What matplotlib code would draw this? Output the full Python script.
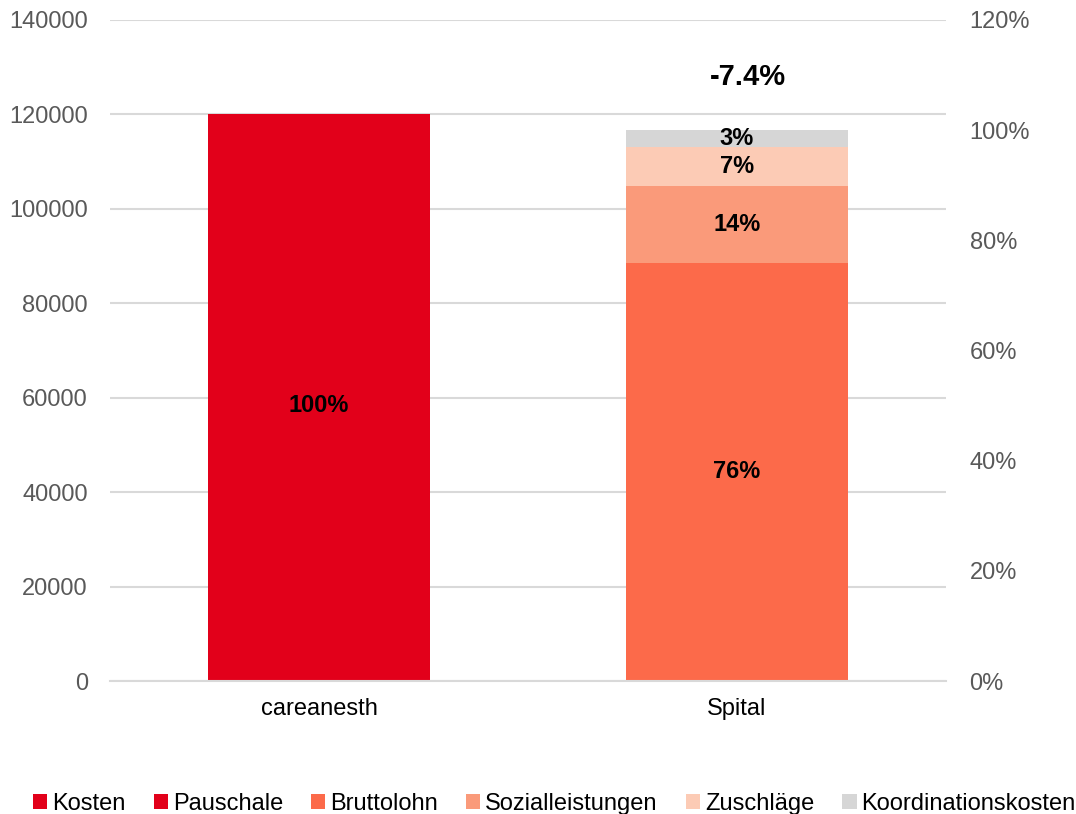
import matplotlib
matplotlib.use("Agg")
import matplotlib.pyplot as plt
from matplotlib.patches import Patch

plt.rcParams['font.family'] = ['Liberation Sans', 'DejaVu Sans']

categories = ['careanesth', 'Spital']
series_names = ['Kosten', 'Pauschale', 'Bruttolohn', 'Sozialleistungen', 'Zuschläge', 'Koordinationskosten']
series_colors = ['#E2001A', '#E2001A', '#FC6A4A', '#FA9A7A', '#FCCBB5', '#D6D6D6']
# values per series for [careanesth, Spital]
kosten = [116700, 0]
pauschale = [3300, 0]
bruttolohn = [0, 88600]
sozialleistungen = [0, 16250]
zuschlaege = [0, 8200]
koordination = [0, 3700]
# segment labels: (category index, series index, text)
segment_labels = [(0, 0, '100%'), (1, 2, '76%'), (1, 3, '14%'), (1, 4, '7%'), (1, 5, '3%')]
diff_label = '-7.4%'

series_values = [kosten, pauschale, bruttolohn, sozialleistungen, zuschlaege, koordination]

fig = plt.figure(figsize=(10.76, 8.14), dpi=100)
ax = fig.add_axes([110 / 1076, 1 - 681 / 814, 836 / 1076, 661 / 814])

x = list(range(len(categories)))
bottoms = [0] * len(categories)
seg_pos = {}
for si, (vals, color) in enumerate(zip(series_values, series_colors)):
    ax.bar(x, vals, bottom=bottoms, width=0.53, color=color, linewidth=0, zorder=2)
    for ci in x:
        seg_pos[(ci, si)] = bottoms[ci] + vals[ci] / 2
    bottoms = [b + v for b, v in zip(bottoms, vals)]

for ci, si, txt in segment_labels:
    ax.text(ci, seg_pos[(ci, si)], txt, ha='center', va='center',
            fontsize=17, fontweight='bold', color='black', zorder=3)

ax.text(1.025, 128000, diff_label, ha='center', va='center',
        fontsize=21, fontweight='bold', color='black')

ax.set_xlim(-0.5, 1.5)
ax.set_ylim(0, 140000)
ax.set_yticks(range(0, 140001, 20000))
ax.set_xticks(x)
ax.set_xticklabels(categories, fontsize=17, color='black')
ax.tick_params(axis='y', labelsize=17, colors='#595959', length=0, pad=16)
ax.tick_params(axis='x', length=0, pad=12)
ax.yaxis.grid(True, color='#D9D9D9', linewidth=1.5, zorder=0)
ax.set_axisbelow(True)
for s in ['top', 'right', 'left']:
    ax.spines[s].set_visible(False)
ax.spines['bottom'].set_color('#D9D9D9')
ax.spines['bottom'].set_linewidth(1.5)

ax2 = ax.twinx()
ax2.set_ylim(0, 120)
ax2.set_yticks(range(0, 121, 20))
ax2.set_yticklabels([f"{t}%" for t in range(0, 121, 20)])
ax2.tick_params(axis='y', labelsize=17, colors='#595959', length=0, pad=17)
for s in ax2.spines.values():
    s.set_visible(False)

handles = [Patch(facecolor=c, edgecolor='none') for c in series_colors]
fig.legend(handles, series_names, loc='lower center', bbox_to_anchor=(0.5153, -0.027),
           ncol=6, frameon=False, fontsize=17, handlelength=0.6, handleheight=0.6,
           handletextpad=0.21, columnspacing=1.19)

fig.savefig('out.png', dpi=100)
